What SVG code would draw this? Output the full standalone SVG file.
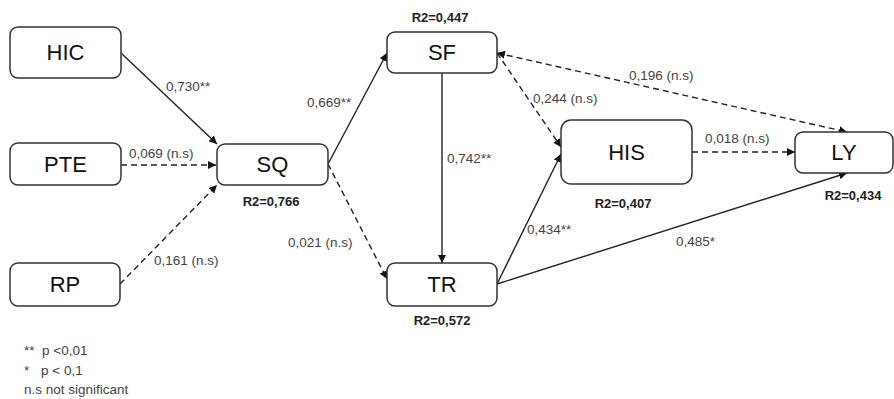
<svg xmlns="http://www.w3.org/2000/svg" width="894" height="399" viewBox="0 0 894 399">
<style>
.box{fill:#fff;stroke:#333;stroke-width:1.5}
.nt{font-family:"Liberation Sans",Arial,sans-serif;font-size:22px;fill:#111;text-anchor:middle}
.lb{font-family:"Liberation Sans",Arial,sans-serif;font-size:13.5px;fill:#444}
.r2{font-family:"Liberation Sans",Arial,sans-serif;font-size:13px;font-weight:bold;fill:#222;text-anchor:middle}
.sol{fill:none;stroke:#222;stroke-width:1.4;marker-end:url(#ah)}
.dsh{fill:none;stroke:#222;stroke-width:1.4;stroke-dasharray:6 4;marker-end:url(#ah)}
</style>
<defs>
<marker id="ah" viewBox="0 0 10 10" refX="10" refY="5" markerWidth="8" markerHeight="8" markerUnits="userSpaceOnUse" orient="auto-start-reverse">
<path d="M0,0 L10,5 L0,10 z" fill="#111"/>
</marker>
</defs>
<rect width="894" height="399" fill="#fff"/>
<g id="connectors">
<line class="sol" x1="121" y1="53" x2="217" y2="144"/>
<line class="dsh" x1="121" y1="165" x2="216" y2="165"/>
<line class="dsh" x1="120" y1="284" x2="217" y2="185"/>
<line class="sol" x1="328" y1="164" x2="387" y2="53"/>
<line class="dsh" x1="328" y1="164" x2="387" y2="279"/>
<line class="sol" x1="442" y1="73" x2="442" y2="263"/>
<line class="dsh" x1="497" y1="53" x2="561" y2="147"/>
<line class="sol" x1="497" y1="284" x2="561" y2="154"/>
<line class="dsh" x1="692" y1="152" x2="795" y2="152"/>
<line class="dsh" x1="497" y1="53" x2="847" y2="132" style="marker-start:url(#ah)"/>
<line class="sol" x1="497" y1="284" x2="847" y2="173"/>
</g>
<g id="labels">
<text class="lb" x="166" y="91">0,730**</text>
<text class="lb" x="129" y="158">0,069 (n.s)</text>
<text class="lb" x="154" y="265">0,161 (n.s)</text>
<text class="lb" x="307" y="107">0,669**</text>
<text class="lb" x="447" y="163">0,742**</text>
<text class="lb" x="533" y="103">0,244 (n.s)</text>
<text class="lb" x="629" y="80">0,196 (n.s)</text>
<text class="lb" x="288" y="247">0,021 (n.s)</text>
<text class="lb" x="527" y="234">0,434**</text>
<text class="lb" x="705" y="143">0,018 (n.s)</text>
<text class="lb" x="676" y="246">0,485*</text>
</g>
<g id="HIC"><rect class="box" x="10" y="27" width="111" height="51" rx="8"/><text class="nt" x="65.5" y="60">HIC</text></g>
<g id="PTE"><rect class="box" x="10" y="143" width="111" height="42" rx="8"/><text class="nt" x="65.5" y="172">PTE</text></g>
<g id="RP"><rect class="box" x="10" y="263" width="110" height="43" rx="8"/><text class="nt" x="65" y="292">RP</text></g>
<g id="SQ"><rect class="box" x="217" y="144" width="111" height="41" rx="8"/><text class="nt" x="272.5" y="172">SQ</text><text class="r2" x="271" y="206">R2=0,766</text></g>
<g id="SF"><rect class="box" x="387" y="32" width="110" height="41" rx="8"/><text class="nt" x="442" y="60">SF</text><text class="r2" x="440" y="22">R2=0,447</text></g>
<g id="TR"><rect class="box" x="387" y="263" width="110" height="43" rx="8"/><text class="nt" x="442" y="292">TR</text><text class="r2" x="442" y="325">R2=0,572</text></g>
<g id="HIS"><rect class="box" x="561" y="120" width="131" height="64" rx="10"/><text class="nt" x="626.5" y="160">HIS</text><text class="r2" x="623" y="208">R2=0,407</text></g>
<g id="LY"><rect class="box" x="795" y="132" width="98" height="41" rx="8"/><text class="nt" x="844" y="160">LY</text><text class="r2" x="853" y="200">R2=0,434</text></g>
<g id="legend">
<text class="lb" x="24" y="355">**</text><text class="lb" x="42" y="355">p &lt;0,01</text>
<text class="lb" x="24" y="375">*</text><text class="lb" x="41" y="375">p &lt; 0,1</text>
<text class="lb" x="24" y="394">n.s not significant</text>
</g>
</svg>
